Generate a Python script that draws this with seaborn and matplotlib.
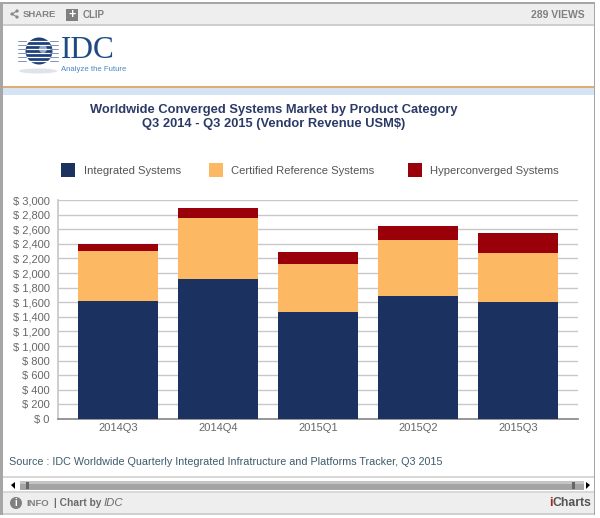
import numpy as np
import pandas as pd
import seaborn as sns
import matplotlib.pyplot as plt
from matplotlib.patches import Rectangle, Circle, Polygon, Ellipse
from matplotlib.ticker import FuncFormatter, MultipleLocator

quarters = ['2014Q3', '2014Q4', '2015Q1', '2015Q2', '2015Q3']
integrated = [1620, 1920, 1470, 1690, 1600]
certified = [680, 830, 660, 760, 680]
hyperconverged = [100, 135, 160, 200, 270]

series_names = ['Integrated Systems', 'Certified Reference Systems', 'Hyperconverged Systems']
series_colors = ['#1b3160', '#fdb863', '#990009']

sns.set_theme(style='white')
plt.rcParams['font.family'] = ['Liberation Sans', 'DejaVu Sans']

W, H = 600, 518
fig = plt.figure(figsize=(W / 100, H / 100), dpi=100)
fig.patch.set_facecolor('white')

# page furniture, in pixel coordinates
bg = fig.add_axes([0, 0, 1, 1], zorder=0)
bg.set_xlim(0, W)
bg.set_ylim(H, 0)
bg.axis('off')


def box(x0, y0, x1, y1, color, z=1):
    bg.add_patch(Rectangle((x0, y0), x1 - x0, y1 - y0, fc=color, ec='none', zorder=z))


box(0, 2, 595, 515, '#a6a6a6')
box(3, 4, 594, 514, 'white')
box(3, 4, 594, 24, '#eeeeee')
box(3, 24, 594, 26, '#cfcfcf')
box(3, 86, 594, 88, '#dfae6c')
box(3, 88, 594, 95, '#d4e4f4')
box(3, 476, 594, 478, '#d8d8d8')
box(3, 491, 594, 493, '#d8d8d8')
box(3, 493, 594, 513, '#eeeeee')
box(3, 513, 594, 515, '#cfcfcf')

# toolbar
for cx, cy in [(12, 14), (17, 11), (17, 17)]:
    bg.add_patch(Circle((cx, cy), 1.6, fc='#888888', ec='none', zorder=3))
bg.plot([17, 12, 17], [11, 14, 17], color='#888888', lw=0.8, zorder=3)
bg.text(23, 14.5, 'SHARE', fontsize=6.8, fontweight='bold', color='#808080', va='center', zorder=3)
box(66, 9, 78, 21, '#808080', 3)
bg.text(72, 15, '+', fontsize=9, fontweight='bold', color='white', ha='center', va='center', zorder=4)
bg.text(83, 14.5, 'CLIP', fontsize=7, fontweight='bold', color='#808080', va='center', zorder=3)
bg.text(585, 15, '289 VIEWS', fontsize=7.5, fontweight='bold', color='#808080',
        ha='right', va='center', zorder=3)

# IDC logo
bg.add_patch(Ellipse((38, 71), 38, 5, fc='#dfe3ea', ec='none', zorder=2))
bg.add_patch(Circle((39, 51), 13.5, fc='#1d3f7a', ec='none', zorder=3))
bg.add_patch(Circle((43, 49), 4, fc='#8fa9cc', ec='none', zorder=3))
for sy in range(41, 63, 4):
    bg.plot([18, 58], [sy, sy], color='white', lw=0.9, zorder=4)
    bg.plot([18, 26], [sy, sy], color='#7f93b5', lw=0.7, zorder=5)
    bg.plot([50, 58], [sy, sy], color='#7f93b5', lw=0.7, zorder=5)
bg.text(61, 51, 'IDC', fontsize=22.5, family='Liberation Serif', color='#1d4a85',
        va='center', zorder=3)
bg.text(61, 69.5, 'Analyze the Future', fontsize=5.6, color='#4a86c5', va='center', zorder=3)

# titles
bg.text(273.5, 110, 'Worldwide Converged Systems Market by Product Category', fontsize=9.3,
        fontweight='bold', color='#2b3a67', ha='center', va='center', zorder=3)
bg.text(273.5, 124, 'Q3 2014 - Q3 2015 (Vendor Revenue USM$)', fontsize=9.3,
        fontweight='bold', color='#2b3a67', ha='center', va='center', zorder=3)

# legend
for name, color, mx, tx in zip(series_names, series_colors, [61, 209, 408], [84, 231, 430]):
    box(mx, 163, mx + 14, 177, color, 3)
    bg.text(tx, 171, name, fontsize=8.1, color='#555555', va='center', zorder=3)

bg.text(9, 462, 'Source : IDC Worldwide Quarterly Integrated Infratructure and Platforms Tracker, Q3 2015',
        fontsize=7.75, color='#3d5a6c', va='center', zorder=3)

# scrollbar
box(20, 481, 584, 490, '#a4a4a4', 3)
box(20, 481, 584, 484, '#c4c4c4', 3)
box(26, 482, 29, 489, '#666666', 4)
box(572, 482, 575, 489, '#666666', 4)
bg.add_patch(Polygon([[11, 485], [15, 482], [15, 489]], fc='black', ec='none', zorder=4))
bg.add_patch(Polygon([[590, 485], [586, 482], [586, 489]], fc='black', ec='none', zorder=4))

# footer
bg.add_patch(Circle((16, 503), 6, fc='#808080', ec='none', zorder=3))
bg.text(16, 503, 'i', fontsize=7, fontweight='bold', color='white', ha='center', va='center', zorder=4)
bg.text(26, 503, 'INFO', fontsize=6.8, fontweight='bold', color='#808080', va='center', zorder=3)
bg.text(54, 503.5, '| Chart by', fontsize=7.4, fontweight='bold', color='#6a6a6a', va='center', zorder=3)
bg.text(104, 503.5, 'IDC', fontsize=8.2, style='italic', color='#6a6a6a', va='center', zorder=3)
bg.text(549, 503, 'i', fontsize=8.8, fontweight='bold', color='#b02020', va='center', zorder=3)
bg.text(552.5, 503, 'Charts', fontsize=8.8, fontweight='bold', color='#555555', va='center', zorder=3)

# the chart itself
ax = fig.add_axes([58 / W, 1 - 419 / H, 520 / W, 219 / H], zorder=2)
ax.patch.set_alpha(0)

df = pd.DataFrame({
    'quarter': quarters,
    'integrated': integrated,
    'certified': certified,
    'hyperconverged': hyperconverged,
})
df['top_certified'] = df['integrated'] + df['certified']
df['top_hyper'] = df['top_certified'] + df['hyperconverged']

# stacks are overlaid tallest first
for col, color in zip(['top_hyper', 'top_certified', 'integrated'], series_colors[::-1]):
    sns.barplot(data=df, x='quarter', y=col, color=color, saturation=1, width=0.8,
                linewidth=0, ax=ax, zorder=3)

ax.set_xlim(-0.6, 4.6)
ax.set_ylim(0, 3000)
ax.set_xlabel('')
ax.set_ylabel('')
ax.yaxis.set_major_locator(MultipleLocator(200))
ax.yaxis.set_major_formatter(FuncFormatter(lambda v, _: f'$ {int(v):,}'))
ax.grid(axis='y', color='#c8c8c8', lw=1, zorder=0)
ax.set_axisbelow(True)
ax.tick_params(axis='y', length=0, pad=6, labelsize=8, labelcolor='#666666')
ax.tick_params(axis='x', length=0, pad=3, labelsize=8, labelcolor='#666666')
for side in ['top', 'right']:
    ax.spines[side].set_visible(False)
ax.spines['left'].set_color('#c8c8c8')
ax.spines['bottom'].set_color('#8a8a8a')

fig.savefig('out.png', dpi=100)
